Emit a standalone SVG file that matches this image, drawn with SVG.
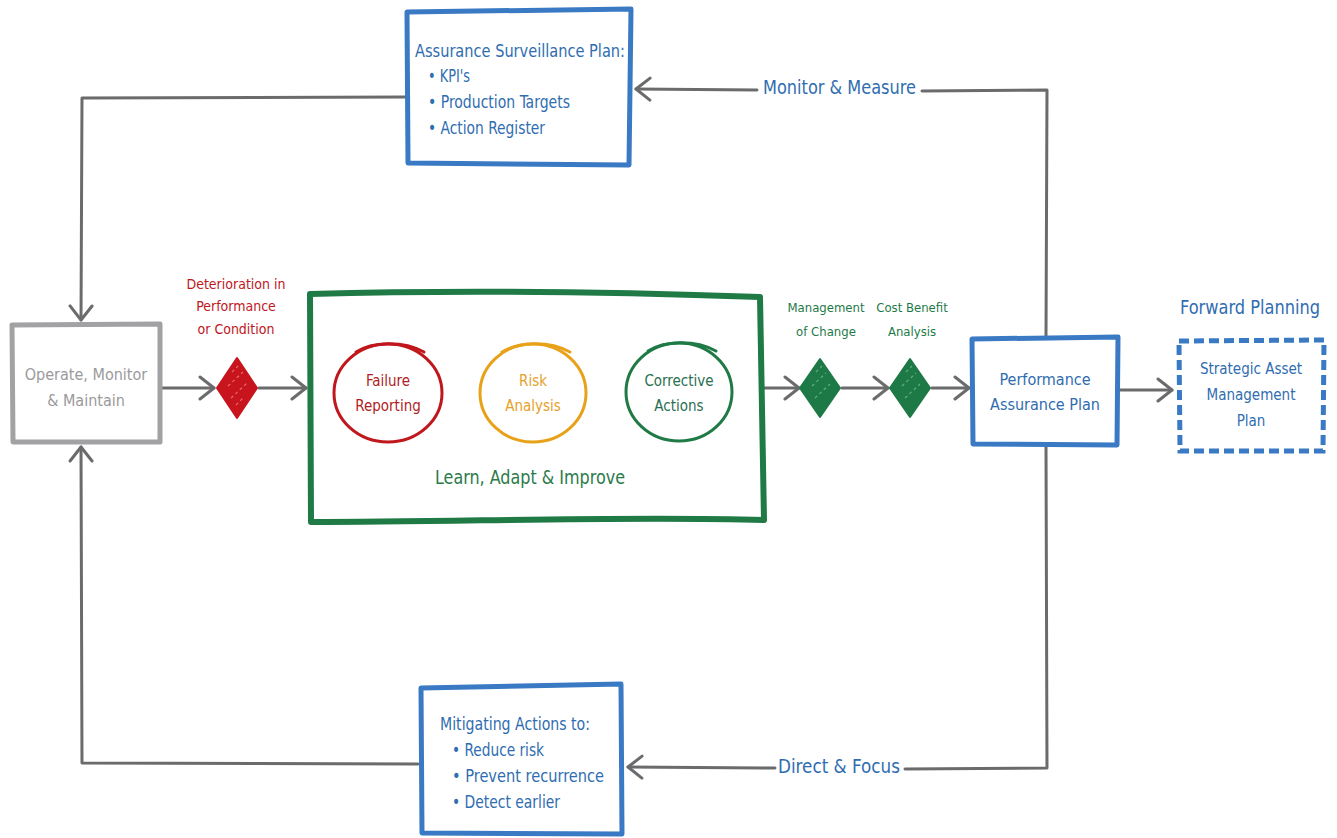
<svg xmlns="http://www.w3.org/2000/svg" width="1337" height="838" viewBox="0 0 1337 838">
<style>
text{font-family:"DejaVu Sans Condensed","DejaVu Sans","Liberation Sans",sans-serif;}
.conn{fill:none;stroke:#6b6b6d;stroke-width:3;stroke-linecap:round;stroke-linejoin:round;}
.blue{fill:#2f6db0;}
.bbox{fill:#fff;stroke:#3a79c3;stroke-width:5;stroke-linejoin:round;}
.red{fill:#c0171d;}
.grn{fill:#1d7a47;}
</style>
<defs>
<marker id="ah" markerUnits="userSpaceOnUse" markerWidth="24" markerHeight="28" refX="17" refY="13" orient="auto">
<path d="M3,2 L17,13 L3,24" fill="none" stroke="#6b6b6d" stroke-width="3" stroke-linecap="round" stroke-linejoin="round"/>
</marker>
</defs>
<rect width="1337" height="838" fill="#fff"/>
<g id="connectors">
<path class="conn" d="M1046,338 L1047,90 L922,91"/>
<path class="conn" d="M757,90 L636,89" marker-end="url(#ah)"/>
<path class="conn" d="M405,97 L82,98 L81,320" marker-end="url(#ah)"/>
<path class="conn" d="M1046,445 L1047,768 L905,769"/>
<path class="conn" d="M775,768 L628,767" marker-end="url(#ah)"/>
<path class="conn" d="M418,764 L82,763 L81,447" marker-end="url(#ah)"/>
<path class="conn" d="M160,388 L214,388" marker-end="url(#ah)"/>
<path class="conn" d="M259,388 L306,388" marker-end="url(#ah)"/>
<path class="conn" d="M443,392 L478,392" marker-end="url(#ah)"/>
<path class="conn" d="M588,392 L623,392" marker-end="url(#ah)"/>
<path class="conn" d="M764,388 L799,388" marker-end="url(#ah)"/>
<path class="conn" d="M842,388 L888,388" marker-end="url(#ah)"/>
<path class="conn" d="M932,388 L969,388" marker-end="url(#ah)"/>
<path class="conn" d="M1118,390 L1172,390" marker-end="url(#ah)"/>
<text class="blue" x="763" y="94" font-size="19" textLength="153" lengthAdjust="spacingAndGlyphs">Monitor &amp; Measure</text>
<text class="blue" x="778" y="773" font-size="19" textLength="122" lengthAdjust="spacingAndGlyphs">Direct &amp; Focus</text>
</g>
<g id="assurance-surveillance-plan">
<path class="bbox" d="M407,12 L631,9 L629,165 L408,163 Z"/>
<text class="blue" font-size="18" x="415" y="57" textLength="210" lengthAdjust="spacingAndGlyphs">Assurance Surveillance Plan:</text>
<text class="blue" font-size="18" x="428" y="82" textLength="42" lengthAdjust="spacingAndGlyphs">• KPI's</text>
<text class="blue" font-size="18" x="428" y="108" textLength="142" lengthAdjust="spacingAndGlyphs">• Production Targets</text>
<text class="blue" font-size="18" x="428" y="134" textLength="117" lengthAdjust="spacingAndGlyphs">• Action Register</text>
</g>
<g id="operate">
<path d="M12,325 L160,324 L160,442 L13,442 Z" fill="#fff" stroke="#a2a2a4" stroke-width="5" stroke-linejoin="round"/>
<text x="86" y="380" font-size="16" fill="#9a9a9c" text-anchor="middle">Operate, Monitor</text>
<text x="86" y="406" font-size="16" fill="#9a9a9c" text-anchor="middle">&amp; Maintain</text>
</g>
<g id="deterioration">
<text class="red" x="236" y="289" font-size="14" text-anchor="middle">Deterioration in</text>
<text class="red" x="236" y="311" font-size="14" text-anchor="middle">Performance</text>
<text class="red" x="236" y="334" font-size="14" text-anchor="middle">or Condition</text>
<path d="M237,358 L257,388 L237,418 L217,388 Z" fill="#c8141c" stroke="#c8141c" stroke-width="2" stroke-linejoin="round"/>
<path d="M232,372 L238,366 M228,386 L243,372 M231,398 L247,383 M236,405 L244,397" stroke="#e86a6a" stroke-width="1.2" stroke-dasharray="3 3" fill="none"/>
</g>
<g id="learn-adapt-improve">
<path d="M310,294 C450,290 620,292 760,297 L764,520 C620,516 460,522 311,522 Z" fill="#fff" stroke="#1f7a45" stroke-width="6" stroke-linejoin="round"/>
<text x="530" y="484" font-size="19" fill="#2a7a4a" text-anchor="middle" textLength="190" lengthAdjust="spacingAndGlyphs">Learn, Adapt &amp; Improve</text>
</g>
<g id="failure-reporting">
<ellipse cx="388" cy="393" rx="54" ry="49" fill="none" stroke="#c0171d" stroke-width="3"/>
<path d="M356,352 C372,342 402,340 424,352" fill="none" stroke="#c0171d" stroke-width="3" stroke-linecap="round"/>
<text x="388" y="386" font-size="15" fill="#b01d25" text-anchor="middle">Failure</text>
<text x="388" y="411" font-size="15" fill="#b01d25" text-anchor="middle">Reporting</text>
</g>
<g id="risk-analysis">
<ellipse cx="533" cy="393" rx="53" ry="49" fill="none" stroke="#e8a21a" stroke-width="3"/>
<path d="M502,352 C518,342 548,340 570,352" fill="none" stroke="#e8a21a" stroke-width="3" stroke-linecap="round"/>
<text x="533" y="386" font-size="15" fill="#e5a12a" text-anchor="middle">Risk</text>
<text x="533" y="411" font-size="15" fill="#e5a12a" text-anchor="middle">Analysis</text>
</g>
<g id="corrective-actions">
<ellipse cx="679" cy="392" rx="53" ry="49" fill="none" stroke="#1f7a45" stroke-width="3"/>
<path d="M648,351 C664,341 694,339 716,351" fill="none" stroke="#1f7a45" stroke-width="3" stroke-linecap="round"/>
<text x="679" y="386" font-size="15" fill="#2a7050" text-anchor="middle">Corrective</text>
<text x="679" y="411" font-size="15" fill="#2a7050" text-anchor="middle">Actions</text>
</g>
<g id="management-of-change">
<text class="grn" x="826" y="312" font-size="13" text-anchor="middle">Management</text>
<text class="grn" x="826" y="336" font-size="13" text-anchor="middle">of Change</text>
<path d="M820,359 L840,388 L820,417 L800,388 Z" fill="#1d7a47" stroke="#1d7a47" stroke-width="2" stroke-linejoin="round"/>
<path d="M816,372 L822,366 M812,386 L826,373 M815,398 L830,384" stroke="#5fae7e" stroke-width="1.2" stroke-dasharray="3 3" fill="none"/>
</g>
<g id="cost-benefit-analysis">
<text class="grn" x="912" y="312" font-size="13" text-anchor="middle">Cost Benefit</text>
<text class="grn" x="912" y="336" font-size="13" text-anchor="middle">Analysis</text>
<path d="M910,359 L930,388 L910,417 L890,388 Z" fill="#1d7a47" stroke="#1d7a47" stroke-width="2" stroke-linejoin="round"/>
<path d="M906,372 L912,366 M902,386 L916,373 M905,398 L920,384" stroke="#5fae7e" stroke-width="1.2" stroke-dasharray="3 3" fill="none"/>
</g>
<g id="performance-assurance-plan">
<path class="bbox" d="M972,339 L1118,337 L1117,445 L973,444 Z"/>
<text class="blue" x="1045" y="385" font-size="16" text-anchor="middle">Performance</text>
<text class="blue" x="1045" y="410" font-size="16" text-anchor="middle">Assurance Plan</text>
</g>
<g id="forward-planning">
<text class="blue" x="1250" y="314" font-size="20" text-anchor="middle" textLength="140" lengthAdjust="spacingAndGlyphs">Forward Planning</text>
<path d="M1179,341 L1324,340 L1323,451 L1180,451 Z" fill="#fff" stroke="#3a79c3" stroke-width="5" stroke-dasharray="10 5"/>
<text class="blue" x="1251" y="374" font-size="15" text-anchor="middle">Strategic Asset</text>
<text class="blue" x="1251" y="400" font-size="15" text-anchor="middle">Management</text>
<text class="blue" x="1251" y="426" font-size="15" text-anchor="middle">Plan</text>
</g>
<g id="mitigating-actions">
<path class="bbox" d="M421,688 L621,684 L622,834 L422,833 Z"/>
<text class="blue" font-size="18" x="440" y="730" textLength="150" lengthAdjust="spacingAndGlyphs">Mitigating Actions to:</text>
<text class="blue" font-size="18" x="452" y="756" textLength="92" lengthAdjust="spacingAndGlyphs">• Reduce risk</text>
<text class="blue" font-size="18" x="452" y="782" textLength="152" lengthAdjust="spacingAndGlyphs">• Prevent recurrence</text>
<text class="blue" font-size="18" x="452" y="808" textLength="108" lengthAdjust="spacingAndGlyphs">• Detect earlier</text>
</g>
</svg>
